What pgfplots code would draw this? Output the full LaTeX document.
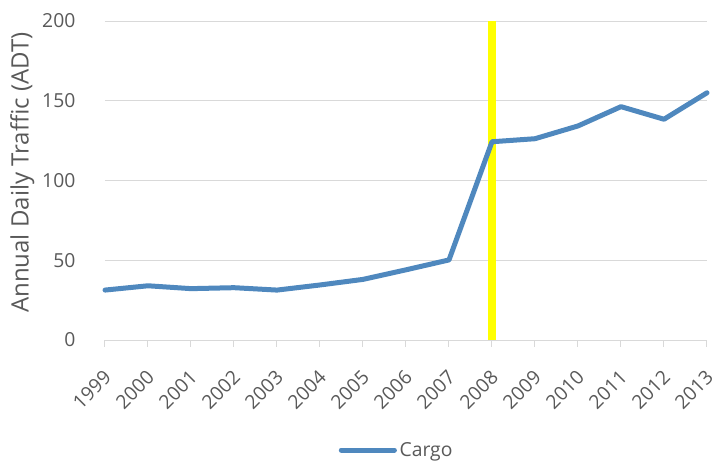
\documentclass[border=0pt]{standalone}
\usepackage{pgfplots}
\pgfplotsset{compat=1.18}
\usepackage{fontspec}
\setmainfont{Open Sans}
\definecolor{txt}{HTML}{595959}
\definecolor{grd}{HTML}{D9D9D9}
\definecolor{cargo}{HTML}{4F88BE}
\definecolor{yel}{HTML}{FFFF00}
\begin{document}
\begin{tikzpicture}
\begin{axis}[
  scale only axis,
  width=451.5pt, height=239.25pt,
  xmin=1999, xmax=2013, ymin=0, ymax=200,
  clip=false,
  xtick={1999,...,2013},
  ytick={0,50,...,200},
  xticklabel={\pgfmathprintnumber[1000 sep={}]{\tick}},
  ymajorgrids,
  grid style={grd, line width=0.75pt},
  axis line style={draw=none},
  axis x line*=bottom, axis y line*=left,
  x axis line style={grd, line width=0.75pt},
  y axis line style={draw=none},
  xtick style={grd, line width=0.75pt},
  ytick style={draw=none},
  major tick length=5pt,
  tick align=outside,
  font=\fontsize{14.5}{17}\selectfont,
  /pgf/number format/assume math mode=true,
  tick label style={text=txt},
  xticklabel style={anchor=east, inner sep=0pt, xshift=2pt, yshift=-20.5pt, rotate=45},
  yticklabel style={anchor=east, inner sep=0pt, xshift=-17pt},
  ylabel={Annual Daily Traffic (ADT)},
  every axis y label/.style={at={(axis description cs:0,0.5)}, xshift=-62pt, yshift=6pt, rotate=90, anchor=center, text=txt, font=\fontsize{18}{21}\selectfont},
  legend style={at={(axis description cs:0.485,0)}, anchor=center, yshift=-82.5pt, draw=none, fill=none, text=txt, font=\fontsize{14.5}{17}\selectfont},
  legend image code/.code={\draw[#1] (0cm,0cm) -- (1.4cm,0cm);},
]
\addplot[yel, line width=5.5pt, forget plot] coordinates {(2008,0) (2008,200)};
\addplot[cargo, line width=3.75pt, line cap=round, line join=round] coordinates {
(1999,31.3) (2000,34) (2001,32.2) (2002,32.8) (2003,31.3) (2004,34.5) (2005,38) (2006,44) (2007,50.2) (2008,124.3) (2009,126.2) (2010,134.2) (2011,146.3) (2012,138.4) (2013,155)
};
\addlegendentry{Cargo}
\end{axis}
\pgfresetboundingbox
\path[use as bounding box] (-78.75pt,-90.75pt) rectangle (459pt,255pt);
\end{tikzpicture}
\end{document}
